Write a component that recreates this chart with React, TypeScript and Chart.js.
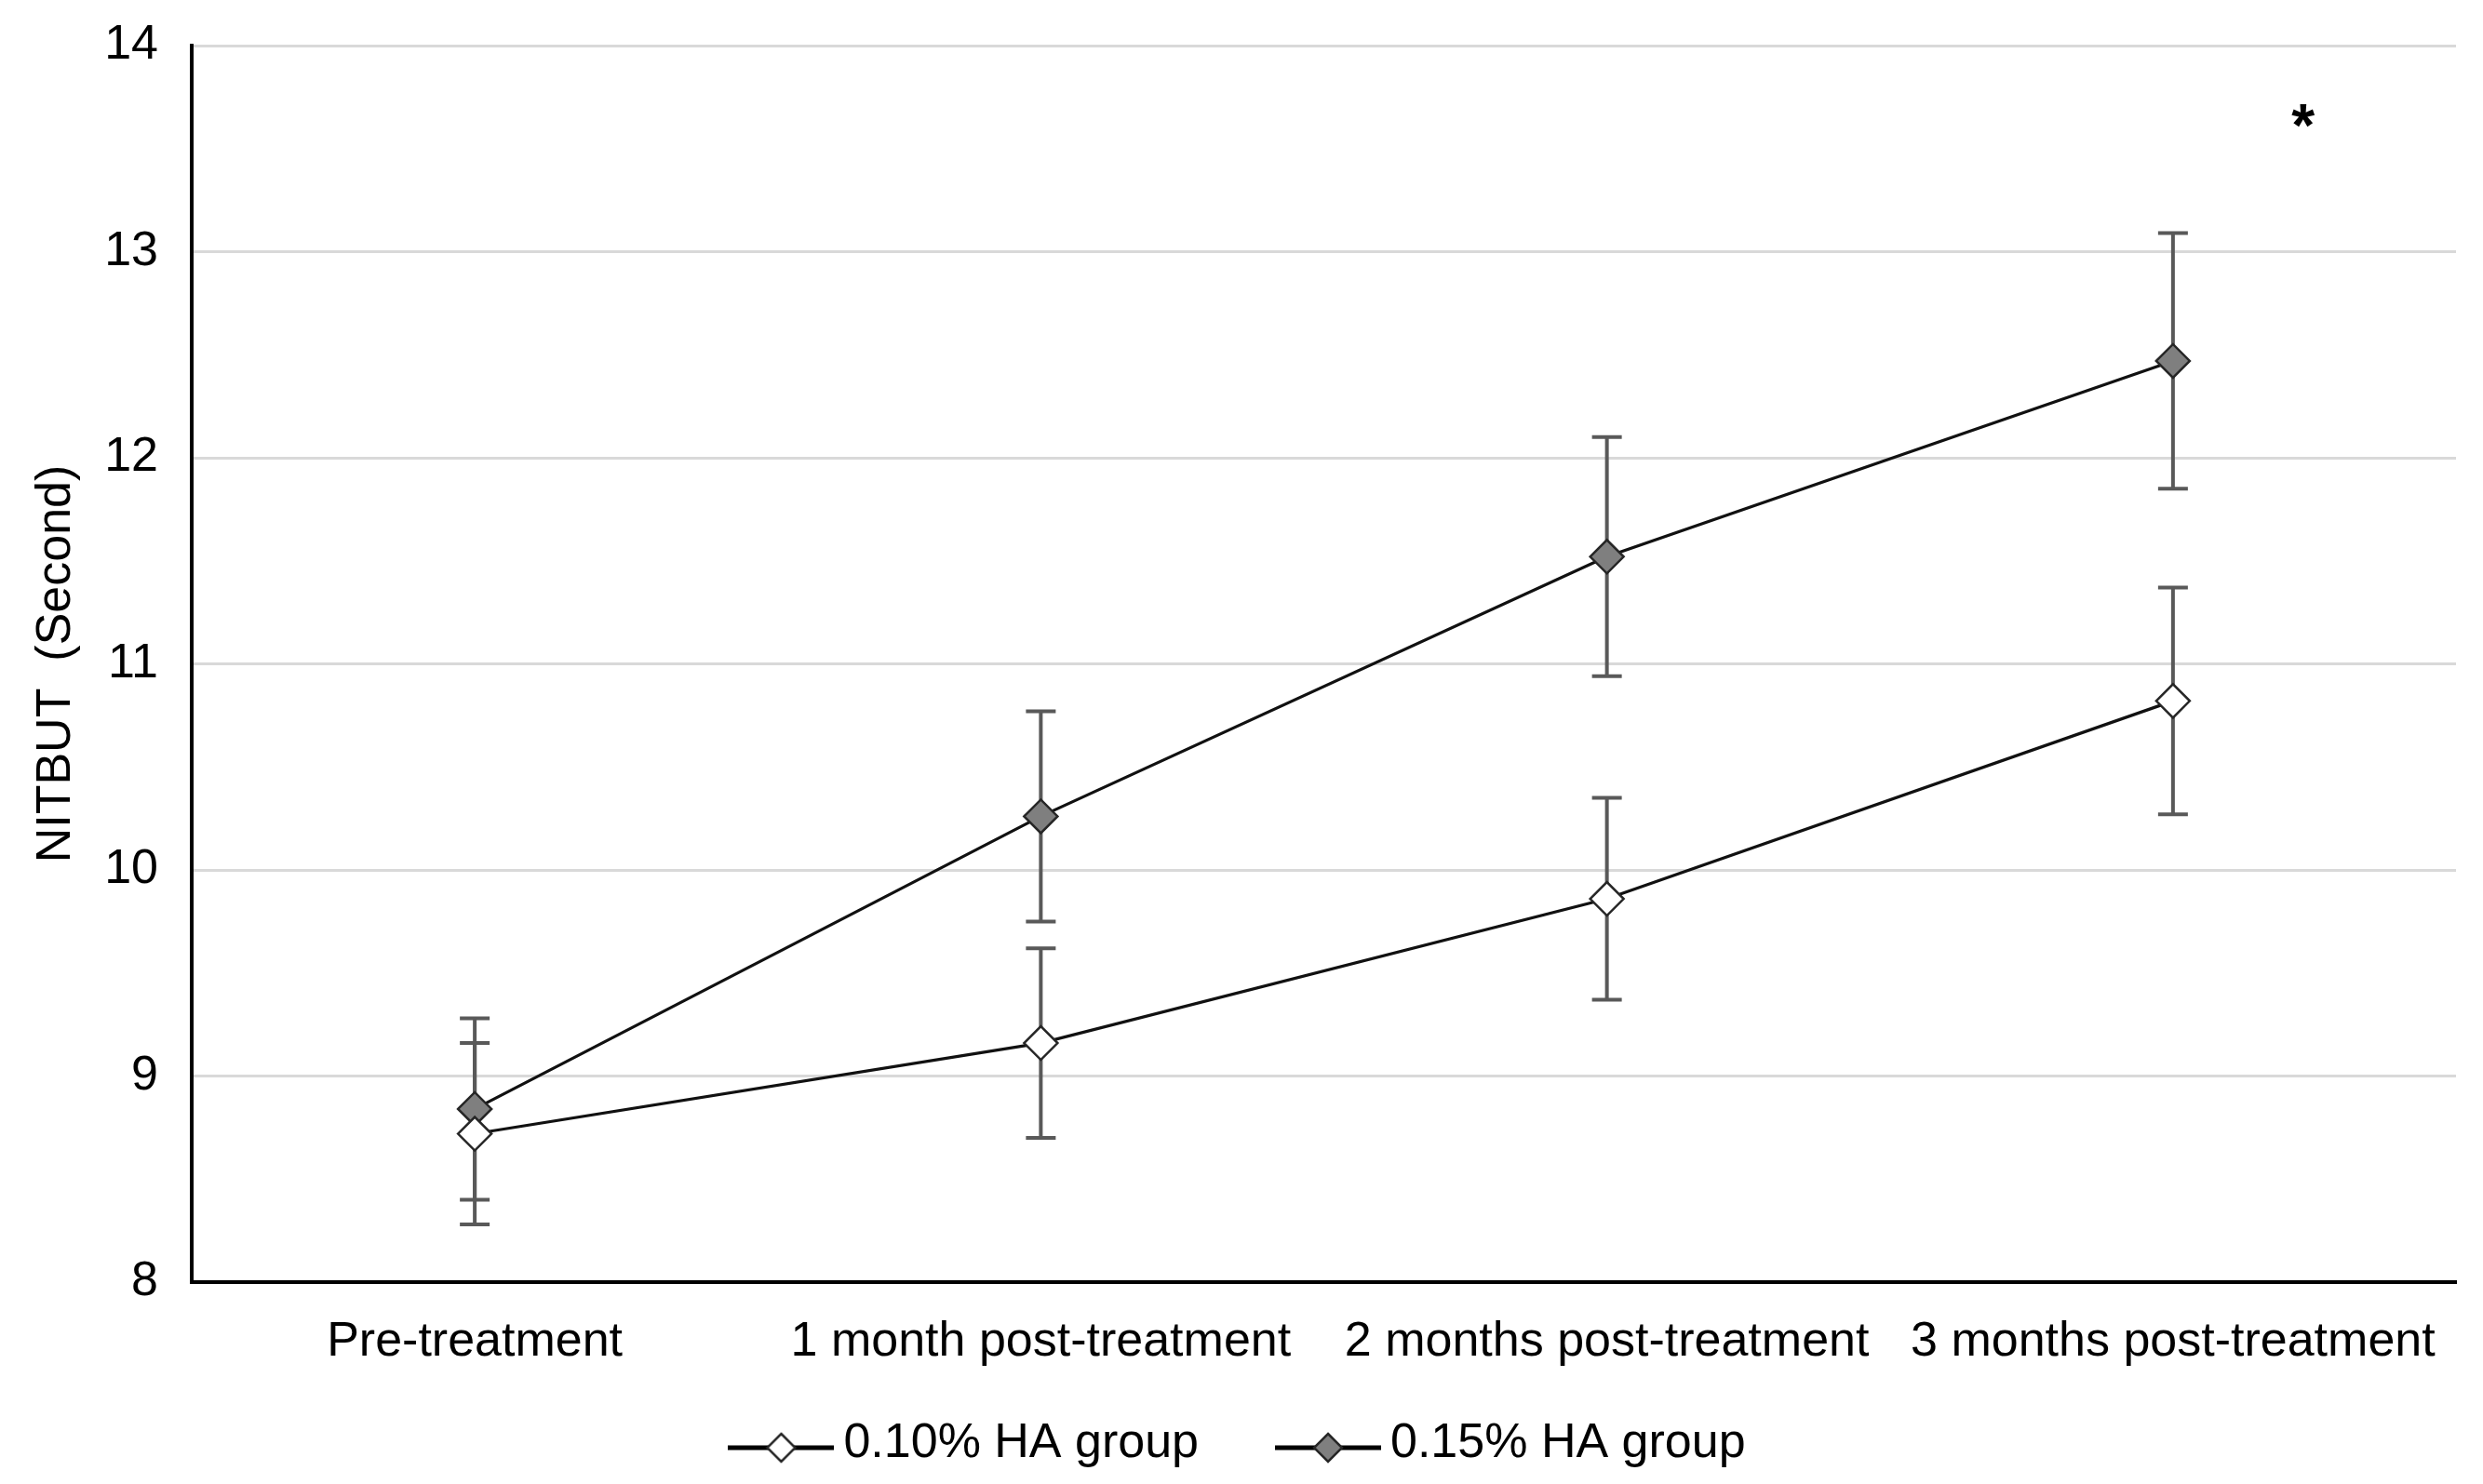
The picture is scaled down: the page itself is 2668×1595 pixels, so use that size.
import React, { useEffect, useRef } from 'react';
import { Chart, registerables } from 'chart.js';

Chart.register(...registerables);

// ---- data ----
const categories = [
  'Pre-treatment',
  '1 month post-treatment',
  '2 months post-treatment',
  '3 months post-treatment',
];
const seriesLabels = ['0.10% HA group', '0.15% HA group'];
const ha010Mean = [8.72, 9.16, 9.86, 10.82];
const ha010Err = [0.44, 0.46, 0.49, 0.55];
const ha015Mean = [8.84, 10.26, 11.52, 12.47];
const ha015Err = [0.44, 0.51, 0.58, 0.62];
const yMin = 8;
const yMax = 14;
const yStep = 1;
const yAxisTitle = 'NITBUT  (Second)';
const significanceMark = '*';
const significanceAt = { x: 3.23, y: 13.67 };

// ---- styles ----
const FONT = '"Liberation Sans", Arial, sans-serif';
const W = 2668;
const H = 1595;

function makeLegendIcon(fill: string): HTMLCanvasElement {
  const c = document.createElement('canvas');
  c.width = 114;
  c.height = 44;
  const g = c.getContext('2d') as CanvasRenderingContext2D;
  const cy = 26;
  g.strokeStyle = '#000';
  g.lineWidth = 5;
  g.beginPath();
  g.moveTo(0, cy);
  g.lineTo(114, cy);
  g.stroke();
  g.beginPath();
  g.moveTo(57, cy - 15);
  g.lineTo(72, cy);
  g.lineTo(57, cy + 15);
  g.lineTo(42, cy);
  g.closePath();
  g.fillStyle = fill;
  g.fill();
  g.lineWidth = 2.5;
  g.strokeStyle = '#262626';
  g.stroke();
  return c;
}

const errorsByDataset = [ha010Err, ha015Err];

const errorBarPlugin = {
  id: 'errorBars',
  beforeDatasetsDraw(chart: any) {
    const { ctx, scales } = chart;
    const x = scales.x;
    const y = scales.y;
    ctx.save();
    ctx.strokeStyle = '#595959';
    ctx.lineWidth = 4;
    chart.data.datasets.forEach((ds: any, di: number) => {
      const errs = errorsByDataset[di];
      (ds.data as number[]).forEach((v, i) => {
        const px = x.getPixelForValue(i);
        const top = y.getPixelForValue(v + errs[i]);
        const bot = y.getPixelForValue(v - errs[i]);
        const cap = 16;
        ctx.beginPath();
        ctx.moveTo(px, top);
        ctx.lineTo(px, bot);
        ctx.moveTo(px - cap, top);
        ctx.lineTo(px + cap, top);
        ctx.moveTo(px - cap, bot);
        ctx.lineTo(px + cap, bot);
        ctx.stroke();
      });
    });
    ctx.restore();
  },
};

const starPlugin = {
  id: 'significanceStar',
  afterDraw(chart: any) {
    const { ctx, scales } = chart;
    const px = scales.x.getPixelForValue(significanceAt.x);
    const py = scales.y.getPixelForValue(significanceAt.y);
    ctx.save();
    ctx.fillStyle = '#000';
    ctx.font = `bold 64px ${FONT}`;
    ctx.textAlign = 'center';
    ctx.textBaseline = 'alphabetic';
    ctx.fillText(significanceMark, px, py + 35);
    ctx.restore();
  },
};

export default function App() {
  const ref = useRef<HTMLCanvasElement | null>(null);

  useEffect(() => {
    document.body.style.margin = '0';
    document.body.style.overflow = 'hidden';
    const canvas = ref.current;
    if (!canvas) return;
    const icons = [makeLegendIcon('#ffffff'), makeLegendIcon('#7f7f7f')];

    const pointStyleCommon = {
      borderColor: '#111111',
      borderWidth: 3.2,
      pointStyle: 'rectRot',
      pointRadius: 18,
      pointBorderColor: '#262626',
      pointBorderWidth: 2.5,
      fill: false,
      tension: 0,
    };

    const chart = new Chart(canvas, {
      type: 'line',
      data: {
        labels: categories,
        datasets: [
          {
            ...pointStyleCommon,
            label: seriesLabels[0],
            data: ha010Mean,
            pointBackgroundColor: '#ffffff',
          },
          {
            ...pointStyleCommon,
            label: seriesLabels[1],
            data: ha015Mean,
            pointBackgroundColor: '#7f7f7f',
          },
        ],
      },
      options: {
        animation: false,
        responsive: false,
        devicePixelRatio: 1,
        layout: { padding: { top: 49, right: 29, bottom: 7, left: 35 } },
        plugins: {
          tooltip: { enabled: false },
          legend: {
            display: true,
            position: 'bottom',
            labels: {
              usePointStyle: true,
              pointStyleWidth: 82,
              padding: 98,
              color: '#000',
              font: { family: FONT, size: 52 },
              generateLabels: (c: any) =>
                c.data.datasets.map((ds: any, i: number) => ({
                  text: ds.label,
                  pointStyle: icons[i],
                  fillStyle: '#fff',
                  strokeStyle: '#000',
                  lineWidth: 0,
                  hidden: false,
                  datasetIndex: i,
                  fontColor: '#000',
                })),
            },
          },
        },
        scales: {
          x: {
            type: 'category',
            offset: true,
            grid: { display: false, drawTicks: false },
            border: { display: true, color: '#000', width: 4 },
            ticks: {
              mirror: true,
              padding: -96,
              color: '#000',
              font: { family: FONT, size: 52 },
              maxRotation: 0,
              autoSkip: false,
            },
            afterFit: (s: any) => {
              s.height = 50;
            },
          },
          y: {
            min: yMin,
            max: yMax,
            ticks: {
              stepSize: yStep,
              padding: 36,
              color: '#000',
              font: { family: FONT, size: 52, lineHeight: 0.4 },
            },
            grid: { color: '#d9d9d9', lineWidth: 3, drawTicks: false },
            border: { display: true, color: '#000', width: 4 },
            title: {
              display: true,
              text: yAxisTitle,
              color: '#000',
              font: { family: FONT, size: 52, lineHeight: 1 },
              padding: { top: 0, bottom: 0 },
            },
            afterFit: (s: any) => {
              s.width = 171;
            },
          },
        },
      } as any,
      plugins: [errorBarPlugin, starPlugin],
    });

    return () => {
      chart.destroy();
    };
  }, []);

  return (
    <div style={{ width: W, height: H, overflow: 'hidden', background: '#fff' }}>
      <canvas ref={ref} width={W} height={H} style={{ display: 'block', width: W, height: H }} />
    </div>
  );
}
